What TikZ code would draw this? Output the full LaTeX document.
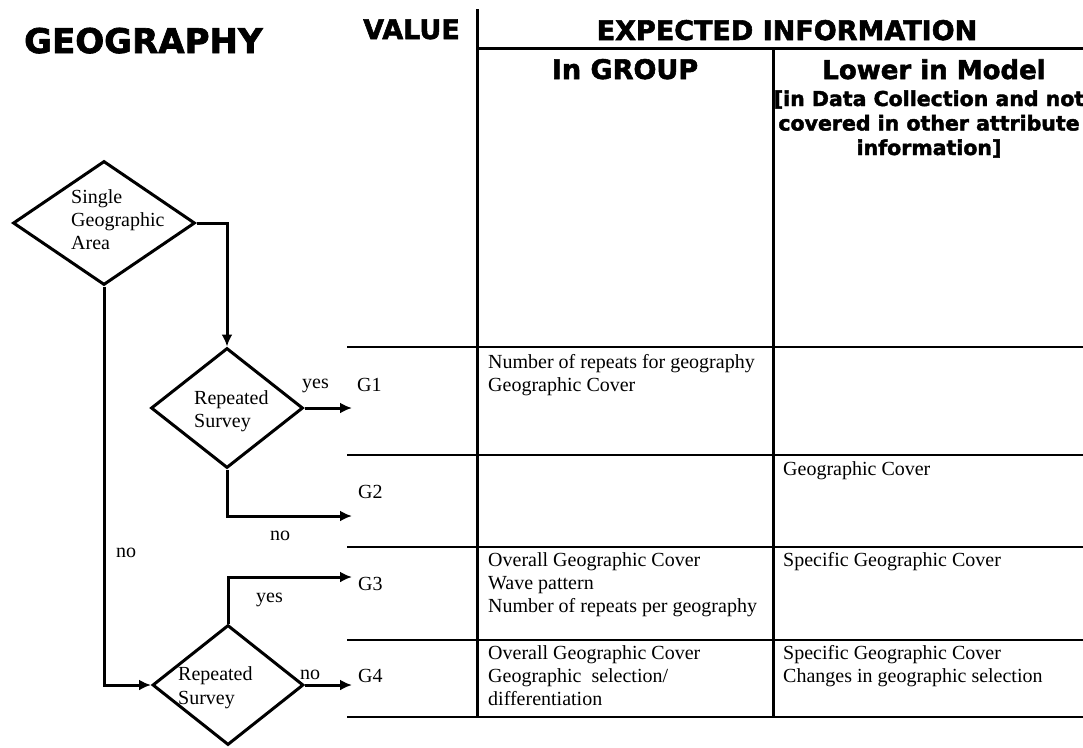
\documentclass[tikz,border=0pt]{standalone}
\usepackage{fontspec}
\setmainfont{Liberation Serif}
\newfontfamily\heavy{DejaVu Sans Bold}[FakeBold=2]
\usetikzlibrary{arrows.meta,shapes.geometric}
\newcommand\cellstack[2][l]{\begin{tabular}[t]{@{}#1@{}}#2\end{tabular}}
\tikzset{
  flow/.style={line width=3pt},
  arr/.style={flow, -{Latex[length=12pt,width=11pt]}},
  decision/.style={draw, line width=3pt, shape=diamond, inner sep=0pt},
  txt/.style={anchor=base west, inner sep=0pt, font=\fontsize{20}{23}\selectfont},
  head/.style={anchor=base, inner sep=0pt, font=\heavy\fontsize{27}{30}\selectfont},
  rowline/.style={line width=2pt},
  colline/.style={line width=3pt},
}
\begin{document}
\begin{tikzpicture}[x=1pt,y=-1pt]
\useasboundingbox (0,0) rectangle (1083,747);

% headings
\node[head, anchor=base west, font=\heavy\fontsize{34}{36}\selectfont] (title) at (24,53) {GEOGRAPHY};
\node[head, anchor=base west] (value) at (363,39) {VALUE};
\node[head] (expected) at (787,40) {EXPECTED INFORMATION};
\node[head] (ingroup) at (625,79) {In GROUP};
\node[head, font=\heavy\fontsize{26}{30}\selectfont] (lower) at (934,79) {Lower in Model};
\node[head, font=\heavy\fontsize{20.5}{24.5}\selectfont] (lowernote) at (929,106)
  {\cellstack[c]{[in Data Collection and not\\covered in other attribute\\information]}};

% table rules
\draw[colline] (477,9) -- (477,717);
\draw[colline] (477,48) -- (1083,48);
\draw[colline] (773,48) -- (773,717);
\foreach \y in {347,455,547,640,717}
  \draw[rowline] (347,\y) -- (1083,\y);

% value codes
\node[txt] (g1) at (357,391) {G1};
\node[txt] (g2) at (358,498) {G2};
\node[txt] (g3) at (358,590) {G3};
\node[txt] (g4) at (358,682) {G4};

% table cells
\node[txt] (c1) at (488,368) {\cellstack{Number of repeats for geography\\Geographic Cover}};
\node[txt] (c2r) at (783,475) {Geographic Cover};
\node[txt] (c3) at (488,566) {\cellstack{Overall Geographic Cover\\Wave pattern\\Number of repeats per geography}};
\node[txt] (c3r) at (783,566) {Specific Geographic Cover};
\node[txt] (c4) at (488,659) {\cellstack{Overall Geographic Cover\\Geographic~ selection/\\differentiation}};
\node[txt] (c4r) at (783,659) {\cellstack{Specific Geographic Cover\\Changes in geographic selection}};

% decisions
\node[decision, minimum width=182pt, minimum height=124pt] (d1) at (104,223) {};
\node[decision, minimum width=152pt, minimum height=120pt] (d2) at (227,408) {};
\node[decision, minimum width=151pt, minimum height=120pt] (d3) at (228,685) {};
\node[txt] (d1t) at (71,203) {\cellstack{Single\\Geographic\\Area}};
\node[txt] (d2t) at (194,404) {\cellstack{Repeated\\Survey}};
\node[txt, font=\fontsize{20}{24}\selectfont] (d3t) at (178,680) {\cellstack{Repeated\\Survey}};

% arrow ends at the value column
\coordinate (e1) at (352,408);
\coordinate (e2) at (352,516);
\coordinate (e3) at (352,577);
\coordinate (e4) at (352,685);

% connectors
\draw[arr] (d1.east) -| (d2.north);
\draw[arr] (d2.east) -- (e1);
\draw[arr] (d2.south) |- (e2);
\draw[arr] (d1.south) |- (d3.west);
\draw[arr] (d3.north) |- (e3);
\draw[arr] (d3.east) -- (e4);

% branch labels
\node[txt] (yes1) at (302,388) {yes};
\node[txt] (no1) at (270,540) {no};
\node[txt] (no2) at (116,557) {no};
\node[txt] (yes2) at (256,602) {yes};
\node[txt] (no3) at (300,679) {no};
\end{tikzpicture}
\end{document}
